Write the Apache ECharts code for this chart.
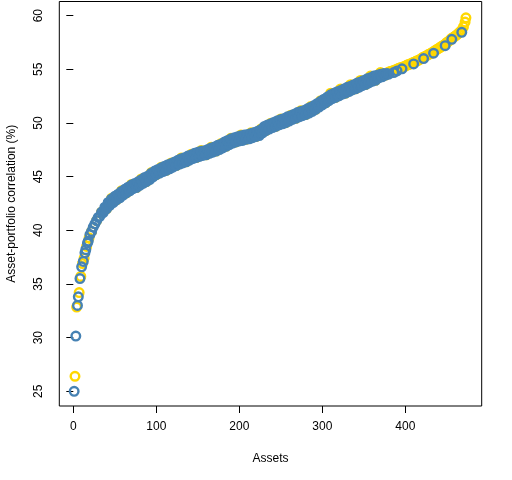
<!DOCTYPE html>
<html>
<head>
<meta charset="utf-8">
<script src="https://cdn.jsdelivr.net/npm/echarts@6/dist/echarts.min.js"></script>
<style>
  html, body { margin: 0; padding: 0; background: #fff; }
  #chart { width: 512px; height: 480px; }
</style>
</head>
<body>
<div id="chart"></div>
<script>
// Asset rank (x) and asset-portfolio correlation in % (y), blue group
var blueRanks = [1, 3, 5, 6, 8, 10, 12, 14, 15, 17, 18,
  20, 22, 24, 26, 28, 30, 32, 34, 36, 38, 40, 42, 44, 46, 48, 50, 52, 54, 56, 58, 60, 62, 64, 66, 68, 70, 72, 74, 76, 78, 80,
  82, 84, 86, 88, 90, 92, 94, 96, 98, 100, 102, 104, 106, 108, 110, 112, 114, 116, 118, 120, 122, 124, 126, 128, 130, 132, 134, 136, 138, 140,
  142, 144, 146, 148, 150, 152, 154, 156, 158, 160, 162, 164, 166, 168, 170, 172, 174, 176, 178, 180, 182, 184, 186, 188, 190, 192, 194, 196, 198, 200,
  202, 204, 206, 208, 210, 212, 214, 216, 218, 220, 222, 224, 226, 228, 230, 232, 234, 236, 238, 240, 242, 244, 246, 248, 250, 252, 254, 256, 258, 260,
  262, 264, 266, 268, 270, 272, 274, 276, 278, 280, 282, 284, 286, 288, 290, 292, 294, 296, 298, 300, 302, 304, 306, 308, 310, 312, 314, 316, 318, 320,
  322, 324, 326, 328, 330, 332, 334, 336, 338, 340, 342, 344, 346, 348, 350, 352, 354, 356, 358, 360, 362, 364, 366, 368, 370, 372, 374, 376, 378, 380,
  386, 390, 396, 410, 422, 434, 448, 456, 468];
var blueValues = [25.0, 30.15, 33.0, 33.8, 35.5, 36.6, 37.1, 37.9, 38.2, 38.8, 39.0,
  39.6, 39.9, 40.3, 40.6, 40.9, 41.2, 41.3, 41.7, 41.65, 42.15, 42.0, 42.6, 42.33, 42.92, 42.58, 43.17, 42.83, 43.37, 43.03, 43.62, 43.28, 43.82, 43.48, 44.02, 43.68, 44.22, 43.88, 44.37, 43.98, 44.52, 44.18,
  44.72, 44.38, 44.92, 44.53, 45.07, 44.73, 45.32, 44.98, 45.52, 45.18, 45.67, 45.33, 45.82, 45.48, 45.97, 45.58, 46.12, 45.73, 46.22, 45.88, 46.37, 46.03, 46.52, 46.18, 46.67, 46.28, 46.77, 46.38, 46.92, 46.53,
  47.02, 46.68, 47.17, 46.78, 47.27, 46.88, 47.37, 46.98, 47.42, 47.03, 47.52, 47.18, 47.67, 47.28, 47.77, 47.38, 47.92, 47.53, 48.02, 47.68, 48.22, 47.83, 48.37, 47.98, 48.52, 48.13, 48.62, 48.23, 48.72, 48.33,
  48.82, 48.38, 48.87, 48.48, 48.92, 48.53, 49.02, 48.63, 49.12, 48.73, 49.22, 48.83, 49.37, 49.08, 49.67, 49.28, 49.82, 49.43, 49.92, 49.58, 50.07, 49.68, 50.22, 49.83, 50.32, 49.93, 50.42, 50.03, 50.57, 50.18,
  50.67, 50.33, 50.82, 50.43, 50.97, 50.58, 51.07, 50.68, 51.17, 50.78, 51.32, 50.93, 51.47, 51.08, 51.62, 51.28, 51.82, 51.48, 52.02, 51.68, 52.22, 51.88, 52.42, 52.08, 52.62, 52.28, 52.77, 52.38, 52.92, 52.53,
  53.02, 52.68, 53.17, 52.78, 53.32, 52.93, 53.42, 53.08, 53.57, 53.18, 53.72, 53.33, 53.82, 53.48, 53.97, 53.58, 54.12, 53.73, 54.22, 53.88, 54.37, 53.98, 54.45, 54.2, 54.55, 54.3, 54.6, 54.45, 54.6, 54.55,
  54.7, 54.85, 55.05, 55.5, 56.0, 56.5, 57.2, 57.8, 58.45];

// Gold group
var goldRanks = [2, 4, 7, 9, 11, 13, 16, 19, 22, 28, 34, 40, 46, 52, 58, 64, 70, 76, 82, 88, 94, 100, 106, 112, 118, 124, 130, 136, 142, 148, 154, 160, 166, 172, 178, 184, 190, 196, 202, 208, 214, 220, 226, 232, 238, 244, 250, 256, 262, 268, 274, 280, 286, 292, 298, 304, 310, 316, 322, 328, 334, 340, 346, 352, 358, 364, 370, 376, 380, 382, 384, 386, 388, 390, 392, 394, 396, 398, 400, 402, 404, 406, 408, 410, 412, 414, 416, 418, 420, 422, 424, 426, 428, 430, 432, 434, 436, 438, 440, 442, 444, 446, 448, 450, 452, 454, 456, 458, 460, 462, 464, 466, 468, 470, 472, 473];
var goldValues = [26.4, 32.85, 34.2, 35.7, 36.9, 37.4, 38.5, 39.3, 39.9, 40.9, 41.7, 42.0, 42.98, 42.83, 43.68, 43.48, 44.28, 43.98, 44.78, 44.53, 45.38, 45.18, 45.88, 45.58, 46.28, 46.03, 46.73, 46.38, 47.08, 46.78, 47.43, 47.03, 47.73, 47.38, 48.08, 47.83, 48.58, 48.23, 48.88, 48.48, 49.08, 48.73, 49.43, 49.28, 49.98, 49.68, 50.38, 50.03, 50.73, 50.43, 51.13, 50.78, 51.53, 51.28, 52.08, 51.88, 52.77, 52.38, 53.17, 52.78, 53.57, 53.18, 53.97, 53.58, 54.37, 53.98, 54.7, 54.45, 54.75, 54.8, 54.85, 54.9, 54.95, 55.0, 55.1, 55.15, 55.2, 55.25, 55.3, 55.4, 55.45, 55.5, 55.6, 55.65, 55.7, 55.8, 55.85, 55.95, 56.05, 56.15, 56.2, 56.3, 56.4, 56.45, 56.55, 56.65, 56.75, 56.85, 56.95, 57.05, 57.15, 57.25, 57.35, 57.5, 57.6, 57.75, 57.9, 58.0, 58.1, 58.2, 58.35, 58.5, 58.65, 58.95, 59.4, 59.8];

// Tick labels
var xTicks = [0, 100, 200, 300, 400];
var yTicks = [25, 30, 35, 40, 45, 50, 55, 60];

var BLUE = '#4682B4';
var GOLD = '#FFD700';

function pairs(xs, ys, denseFrom, denseTo, fill) {
  var out = [];
  var n = Math.min(xs.length, ys.length);
  for (var i = 0; i < n; i++) {
    var item = { value: [xs[i], ys[i]] };
    // where the rings overlap into a solid band, their interiors are covered anyway
    if (fill && xs[i] >= denseFrom && xs[i] <= denseTo) item.itemStyle = { color: fill };
    out.push(item);
  }
  return out;
}

var FONT = '"Liberation Sans", Arial, sans-serif';
var chart = echarts.init(document.getElementById('chart'), null, { renderer: 'canvas' });

chart.setOption({
  animation: false,
  backgroundColor: '#ffffff',
  grid: {
    left: 59.3, right: 30.3, top: 1.5, bottom: 74,
    outerBoundsMode: 'none',
    containLabel: false,
    show: true, borderColor: '#000', borderWidth: 1, backgroundColor: 'transparent'
  },
  xAxis: {
    type: 'value',
    min: -16.9, max: 492,
    name: 'Assets',
    nameLocation: 'middle',
    nameGap: 47,
    nameTextStyle: { fontFamily: FONT, fontSize: 12, color: '#000' },
    splitLine: { show: false },
    axisLine: { show: false },
    axisTick: { show: true, length: 7, inside: false, customValues: xTicks, lineStyle: { color: '#000', width: 1 } },
    axisLabel: { show: true, customValues: xTicks, margin: 15, fontFamily: FONT, fontSize: 12, color: '#000' }
  },
  yAxis: {
    type: 'value',
    min: 23.63, max: 61.32,
    name: 'Asset-portfolio correlation (%)',
    nameLocation: 'middle',
    nameGap: 42,
    nameRotate: 90,
    nameTextStyle: { fontFamily: FONT, fontSize: 12, color: '#000' },
    splitLine: { show: false },
    axisLine: { show: false },
    axisTick: { show: true, length: 7, inside: false, customValues: yTicks, lineStyle: { color: '#000', width: 1 } },
    axisLabel: { show: true, customValues: yTicks, rotate: 90, margin: 15, fontFamily: FONT, fontSize: 12, color: '#000' }
  },
  series: [
    {
      name: 'gold', type: 'scatter', silent: true,
      data: pairs(goldRanks, goldValues, 0, 0, null),
      symbol: 'circle', symbolSize: 8.6,
      itemStyle: { color: 'rgba(0,0,0,0)', borderColor: GOLD, borderWidth: 2.4, opacity: 1 },
      emphasis: { disabled: true }
    },
    {
      name: 'blue', type: 'scatter', silent: true,
      data: pairs(blueRanks, blueValues, 36, 376, BLUE),
      symbol: 'circle', symbolSize: 8.6,
      itemStyle: { color: 'rgba(0,0,0,0)', borderColor: BLUE, borderWidth: 2.4, opacity: 1 },
      emphasis: { disabled: true }
    }
  ]
});
</script>
</body>
</html>
